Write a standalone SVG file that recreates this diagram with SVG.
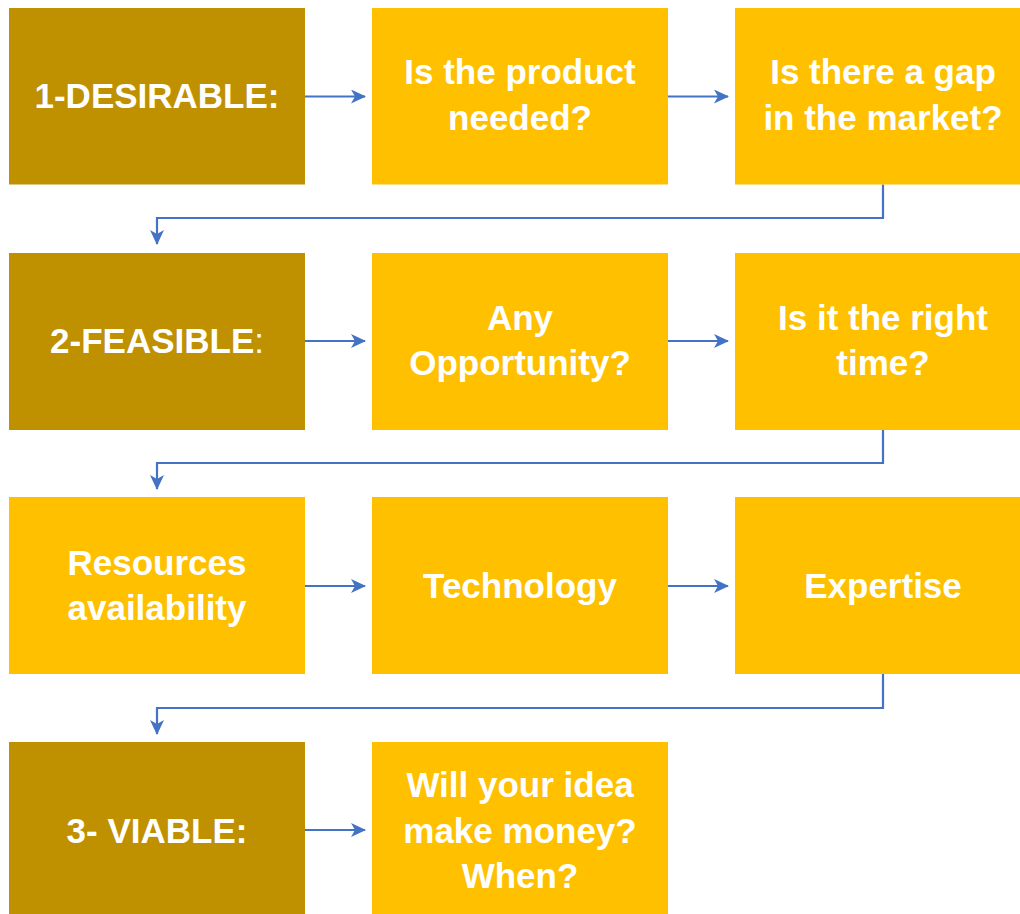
<svg xmlns="http://www.w3.org/2000/svg" width="1020" height="914" viewBox="0 0 1020 914">
<style>
.dark{fill:#BF9000}
.light{fill:#FFC000}
text{font-family:"Liberation Sans",Arial,sans-serif;font-weight:bold;font-size:35px;fill:#FFFFFF;text-anchor:middle}
.c{fill:none;stroke:#4472C4;stroke-width:2.2}
</style>
<defs>
<marker id="ah" viewBox="0 0 15 14" refX="14" refY="7" markerWidth="15" markerHeight="14" orient="auto" markerUnits="userSpaceOnUse">
<path d="M0,0 L15,7 L0,14 L4,7 Z" fill="#4472C4"/>
</marker>
</defs>
<rect width="1020" height="914" fill="#FFFFFF"/>
<g id="connectors">
<path class="c" d="M305,96.5 H365" marker-end="url(#ah)"/>
<path class="c" d="M668,96.5 H728" marker-end="url(#ah)"/>
<path class="c" d="M883,184.5 V218 H157 V244" marker-end="url(#ah)"/>
<path class="c" d="M305,341 H365" marker-end="url(#ah)"/>
<path class="c" d="M668,341 H728" marker-end="url(#ah)"/>
<path class="c" d="M883,430 V463 H157 V489" marker-end="url(#ah)"/>
<path class="c" d="M305,586 H365" marker-end="url(#ah)"/>
<path class="c" d="M668,586 H728" marker-end="url(#ah)"/>
<path class="c" d="M883,674 V708 H157 V734" marker-end="url(#ah)"/>
<path class="c" d="M305,830 H365" marker-end="url(#ah)"/>
</g>
<g id="n1"><rect class="dark" x="9" y="8" width="296" height="176.5"/><text x="157" y="108">1-DESIRABLE:</text></g>
<g id="n2"><rect class="light" x="372" y="8" width="296" height="176.5"/><text x="520" y="84">Is the product</text><text x="520" y="130">needed?</text></g>
<g id="n3"><rect class="light" x="735" y="8" width="296" height="176.5"/><text x="883" y="84">Is there a gap</text><text x="883" y="130">in the market?</text></g>
<g id="n4"><rect class="dark" x="9" y="253" width="296" height="177"/><text x="157" y="353">2-FEASIBLE<tspan font-weight="normal">:</tspan></text></g>
<g id="n5"><rect class="light" x="372" y="253" width="296" height="177"/><text x="520" y="330">Any</text><text x="520" y="375">Opportunity?</text></g>
<g id="n6"><rect class="light" x="735" y="253" width="296" height="177"/><text x="883" y="330">Is it the right</text><text x="883" y="375">time?</text></g>
<g id="n7"><rect class="light" x="9" y="497" width="296" height="177"/><text x="157" y="575">Resources</text><text x="157" y="620">availability</text></g>
<g id="n8"><rect class="light" x="372" y="497" width="296" height="177"/><text x="520" y="598">Technology</text></g>
<g id="n9"><rect class="light" x="735" y="497" width="296" height="177"/><text x="883" y="598">Expertise</text></g>
<g id="n10"><rect class="dark" x="9" y="742" width="296" height="172"/><text x="157" y="843">3- VIABLE:</text></g>
<g id="n11"><rect class="light" x="372" y="742" width="296" height="172"/><text x="520" y="797">Will your idea</text><text x="520" y="843">make money?</text><text x="520" y="888">When?</text></g>
</svg>
